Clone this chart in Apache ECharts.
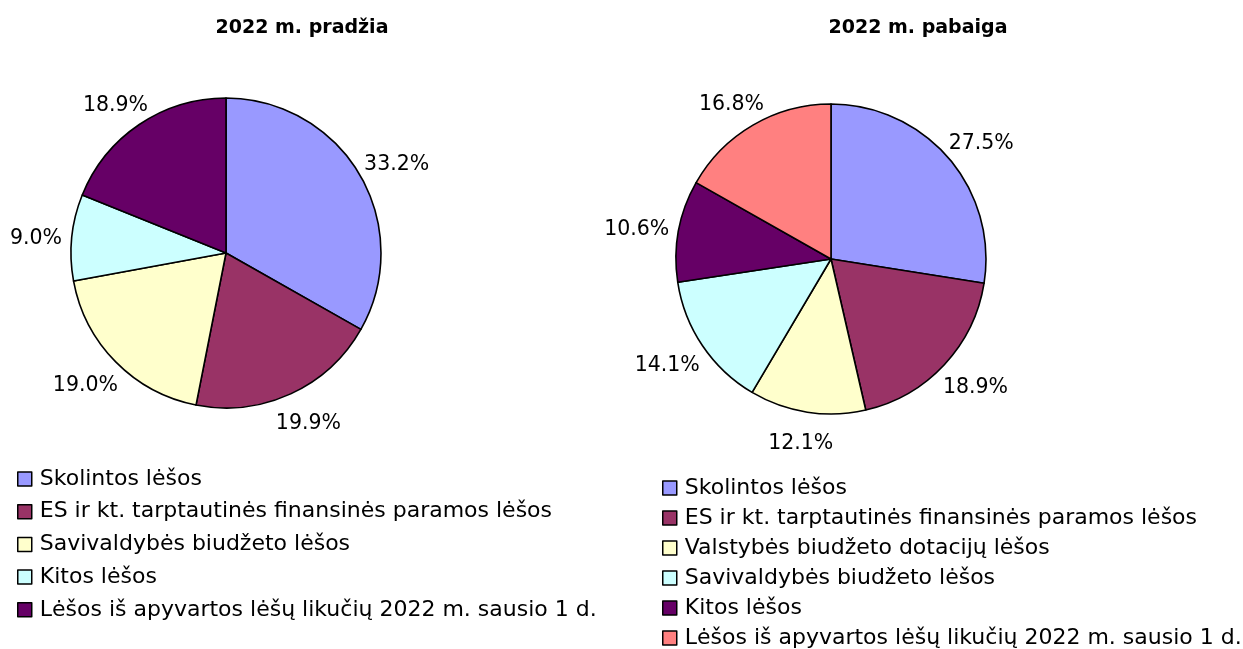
<!DOCTYPE html>
<html>
<head>
<meta charset="utf-8">
<script src="https://cdn.jsdelivr.net/npm/echarts@6/dist/echarts.min.js"></script>
<style>html,body{margin:0;padding:0;background:#fff}#c{width:1243px;height:649px}</style>
</head>
<body>
<div id="c"></div>
<script>
const titleLeft = '2022 m. pradžia';
const titleRight = '2022 m. pabaiga';
const catsLeft = ['Skolintos lėšos', 'ES ir kt. tarptautinės finansinės paramos lėšos', 'Savivaldybės biudžeto lėšos', 'Kitos lėšos', 'Lėšos iš apyvartos lėšų likučių 2022 m. sausio 1 d.'];
const valsLeft = [33.2, 19.9, 19.0, 9.0, 18.9];
const catsRight = ['Skolintos lėšos', 'ES ir kt. tarptautinės finansinės paramos lėšos', 'Valstybės biudžeto dotacijų lėšos', 'Savivaldybės biudžeto lėšos', 'Kitos lėšos', 'Lėšos iš apyvartos lėšų likučių 2022 m. sausio 1 d.'];
const valsRight = [27.5, 18.9, 12.1, 14.1, 10.6, 16.8];
const colorsLeft = ['#9999FF', '#993366', '#FFFFCC', '#CCFFFF', '#660066'];
const colorsRight = ['#9999FF', '#993366', '#FFFFCC', '#CCFFFF', '#660066', '#FF8080'];

const FONT = 'DejaVu Sans';
const R = 155;
const LEFT_C = [226, 253];
const RIGHT_C = [831, 259];
const GAP = 10;
const HALF_H = 18;
const DY = 4;

function layoutFor(vals, c) {
  const total = vals.reduce((a, b) => a + b, 0);
  return function (p) {
    let before = 0;
    for (let i = 0; i < p.dataIndex; i++) before += vals[i];
    const mid = (before + vals[p.dataIndex] / 2) / total * Math.PI * 2;
    const ux = Math.sin(mid), uy = -Math.cos(mid);
    const a = p.labelRect.width / 2;
    return {
      x: c[0] + (R + GAP + a) * ux,
      y: c[1] + (R + GAP + HALF_H) * uy + DY,
      align: 'center',
      verticalAlign: 'middle'
    };
  };
}

function pie(cats, vals, colors, c) {
  return {
    type: 'pie',
    center: c,
    radius: R,
    startAngle: 90,
    clockwise: true,
    silent: true,
    animation: false,
    avoidLabelOverlap: false,
    itemStyle: { borderColor: '#000', borderWidth: 1.6 },
    label: {
      show: true,
      position: 'outside',
      overflow: 'none',
      formatter: p => p.value.toFixed(1) + '%',
      fontFamily: FONT,
      fontSize: 20.5,
      color: '#000'
    },
    labelLine: { show: false },
    labelLayout: layoutFor(vals, c),
    data: cats.map((n, i) => ({ name: n, value: vals[i], itemStyle: { color: colors[i] } }))
  };
}

function legend(cats, colors, left, top, gap) {
  return {
    orient: 'vertical',
    left: left,
    top: top,
    height: 300,
    padding: 0,
    itemWidth: 14,
    itemHeight: 14,
    itemGap: gap,
    icon: 'rect',
    selectedMode: false,
    textStyle: { fontFamily: FONT, fontSize: 22, color: '#000', lineHeight: 22, padding: [0, 0, 0, 3] },
    data: cats.map((n, i) => ({ name: n, itemStyle: { color: colors[i], borderColor: '#000', borderWidth: 1.5 } }))
  };
}

const chart = echarts.init(document.getElementById('c'), null, { renderer: 'canvas' });
chart.setOption({
  animation: false,
  backgroundColor: '#fff',
  title: [
    { text: titleLeft, left: 297, top: 14, textAlign: 'center', textStyle: { fontFamily: FONT, fontSize: 19, fontWeight: 'bold', color: '#000' } },
    { text: titleRight, left: 913, top: 14, textAlign: 'center', textStyle: { fontFamily: FONT, fontSize: 19, fontWeight: 'bold', color: '#000' } }
  ],
  legend: [
    legend(catsLeft, colorsLeft, 17, 468, 10.7),
    legend(catsRight, colorsRight, 662, 477, 8)
  ],
  series: [
    pie(catsLeft, valsLeft, colorsLeft, LEFT_C),
    pie(catsRight, valsRight, colorsRight, RIGHT_C)
  ]
});
</script>
</body>
</html>
